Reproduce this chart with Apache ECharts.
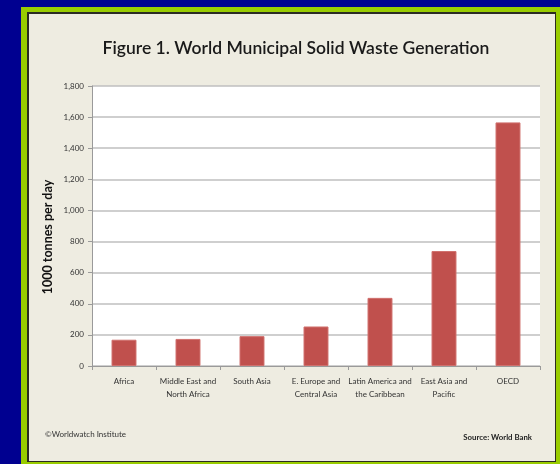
<!DOCTYPE html>
<html>
<head>
<meta charset="utf-8">
<script src="https://cdn.jsdelivr.net/npm/echarts@6/dist/echarts.min.js"></script>
<style>html,body{margin:0;padding:0;background:#000090;}#c{width:560px;height:464px;}</style>
</head>
<body>
<div id="c"></div>
<script>
var categories = ['Africa', 'Middle East and\nNorth Africa', 'South Asia', 'E. Europe and\nCentral Asia', 'Latin America and\nthe Caribbean', 'East Asia and\nPacific', 'OECD'];
var wasteValues = [169, 174, 192, 254, 438, 739, 1566];
var yTicks = [0, 200, 400, 600, 800, 1000, 1200, 1400, 1600, 1800];
var titleText = 'Figure 1. World Municipal Solid Waste Generation';
var yAxisTitle = '1000 tonnes per day';
var creditText = '\u00A9Worldwatch Institute';
var sourceText = 'Source: World Bank';

var chart = echarts.init(document.getElementById('c'), null, {renderer: 'canvas'});
var fontFam = 'Lato, "Open Sans", sans-serif';
chart.setOption({
  backgroundColor: '#000090',
  animation: false,
  graphic: [
    {type: 'rect', z: -10, shape: {x: 21, y: 7, width: 539, height: 457}, style: {fill: '#99CC00'}},
    {type: 'rect', z: -9, shape: {x: 27, y: 12, width: 529, height: 450}, style: {fill: '#2b2b22'}},
    {type: 'rect', z: -8, shape: {x: 29, y: 14, width: 526, height: 447}, style: {fill: '#EEECE1'}},
    {type: 'rect', z: -7, shape: {x: 92, y: 86, width: 448, height: 280}, style: {fill: '#FFFFFF'}},
    {type: 'text', z: 5, x: 296, y: 48, style: {text: titleText, fill: '#1a1a1a', font: '600 17.5px ' + fontFam, align: 'center', verticalAlign: 'middle'}},
    {type: 'text', z: 5, x: 48, y: 237, rotation: Math.PI / 2, style: {text: yAxisTitle, fill: '#111', font: 'bold 12.5px ' + fontFam, align: 'center', verticalAlign: 'middle'}},
    {type: 'text', z: 5, x: 45, y: 434, style: {text: creditText, fill: '#333', font: '8px ' + fontFam, align: 'left', verticalAlign: 'middle'}},
    {type: 'text', z: 5, x: 532, y: 437, style: {text: sourceText, fill: '#222', font: 'bold 7.8px ' + fontFam, align: 'right', verticalAlign: 'middle'}}
  ],
  grid: {left: 92, right: 20, top: 86, bottom: 98, containLabel: false},
  xAxis: {
    type: 'category',
    data: categories,
    axisLine: {show: true, lineStyle: {color: '#9a9a9a', width: 1}},
    axisTick: {show: true, alignWithLabel: false, length: 4, lineStyle: {color: '#9a9a9a'}},
    axisLabel: {color: '#333', fontFamily: fontFam, fontSize: 8, lineHeight: 13, margin: 9, interval: 0}
  },
  yAxis: {
    type: 'value',
    min: yTicks[0],
    max: yTicks[yTicks.length - 1],
    interval: yTicks[1] - yTicks[0],
    axisLine: {show: true, lineStyle: {color: '#9a9a9a', width: 1}},
    axisTick: {show: true, length: 4, lineStyle: {color: '#9a9a9a'}},
    splitLine: {show: true, lineStyle: {color: '#BFBFBF', width: 1.5}},
    axisLabel: {
      color: '#333', fontFamily: fontFam, fontSize: 8, margin: 8,
      formatter: function (v) { return v.toLocaleString('en-US'); }
    }
  },
  series: [{
    type: 'bar',
    data: wasteValues,
    barWidth: '39%',
    itemStyle: {color: '#C0504D', borderColor: '#D0716E', borderWidth: 1}
  }]
});
</script>
</body>
</html>
